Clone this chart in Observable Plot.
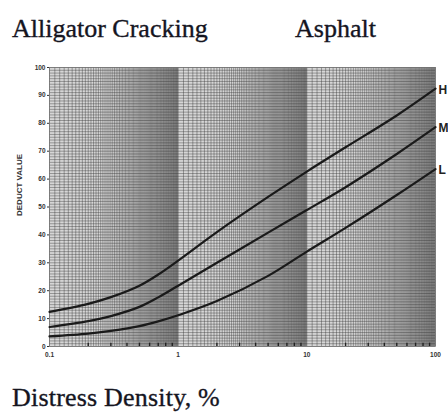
<!DOCTYPE html>
<html>
<head>
<meta charset="utf-8">
<script src="https://cdn.jsdelivr.net/npm/d3@7"></script>
<script src="https://cdn.jsdelivr.net/npm/@observablehq/plot@0.6"></script>
<style>
  html, body { margin: 0; padding: 0; background: #fff; }
  #wrap { position: relative; width: 448px; height: 414px; background: #fff; overflow: hidden; }
  .serif { position: absolute; font-family: "Liberation Serif", "Times New Roman", serif; color: #15151f; white-space: nowrap; line-height: normal; -webkit-text-stroke: 0.35px #15151f; }
  #chart { position: absolute; left: 0; top: 50px; }
</style>
</head>
<body>
<div id="wrap">
  <div class="serif" style="left:12px; top:14px; font-size:26px;">Alligator Cracking</div>
  <div class="serif" style="left:295px; top:14px; font-size:26px;">Asphalt</div>
  <div id="chart"></div>
  <div class="serif" style="left:12px; top:383px; font-size:26px; letter-spacing:0.2px;">Distress Density, %</div>
</div>
<script>
// Distress density (%) sample points
const density = [0.1, 0.2, 0.3, 0.5, 0.7, 1, 2, 5, 10, 20, 50, 100];
// Deduct values per severity
const high   = [12.4, 15.3, 17.7, 21.8, 25.8, 30.8, 41.0, 53.6, 62.7, 71.4, 82.8, 92.4];
const medium = [7.0, 9.1, 10.9, 14.2, 17.6, 21.8, 30.0, 40.8, 48.9, 57.1, 69.0, 78.6];
const low    = [3.6, 4.6, 5.6, 7.3, 9.0, 11.2, 16.3, 25.3, 34.0, 42.5, 54.3, 63.6];
const severityLabels = ["H", "M", "L"];
const xTicks = [0.1, 0.5, 1, 5, 10, 50, 100];
const yTicks = [0, 10, 20, 30, 40, 50, 60, 70, 80, 90, 100];

const series = [high, medium, low];
const rows = [];
series.forEach((vals, i) => vals.forEach((v, j) => rows.push({severity: severityLabels[i], x: density[j], y: v})));
const ends = series.map((vals, i) => ({severity: severityLabels[i], x: density[density.length - 1], y: vals[vals.length - 1]}));

// graph-paper grid (decorative): log-paper verticals, unit horizontals
const decades = [0.1, 1, 10];
const vGrid = [];
decades.forEach(d => { for (let k = 10; k < 100; k++) vGrid.push(d * k / 10); });
vGrid.push(100);
const hGrid = d3.range(0, 101, 1);
const minorTicks = [];
decades.forEach(d => { for (let k = 2; k <= 9; k++) minorTicks.push(d * k); });

const chart = Plot.plot({
  width: 448,
  height: 320,
  marginLeft: 49,
  marginRight: 13,
  marginTop: 17,
  marginBottom: 24,
  style: {fontFamily: "Arial, 'Liberation Sans', sans-serif", fontSize: "6.5px", fontWeight: "bold", color: "#333", background: "transparent", overflow: "visible"},
  x: {type: "log", domain: [0.1, 100], ticks: xTicks, tickFormat: d => String(d), tickSize: 0, tickPadding: 6, label: null},
  y: {domain: [0, 100], ticks: yTicks, tickSize: 2, tickPadding: 2, label: null},
  marks: [
    Plot.frame({fill: "#d6d6d6", stroke: null}),
    Plot.ruleY(hGrid, {y: d => d, stroke: "#333", strokeOpacity: 0.45, strokeWidth: 0.9}),
    Plot.ruleX(vGrid, {x: d => d, stroke: "#333", strokeOpacity: 0.45, strokeWidth: 0.9}),
    Plot.ruleX(minorTicks, {x: d => d, y1: 0, y2: 1.2, stroke: "#222", strokeWidth: 1.4}),
    Plot.frame({stroke: "#777", strokeWidth: 0.8}),
    Plot.line(rows, {x: "x", y: "y", z: "severity", curve: "catmull-rom", stroke: "#1a1a1a", strokeWidth: 2.2}),
    Plot.text(ends, {x: "x", y: "y", text: "severity", textAnchor: "start", dx: 3, dy: 1, fontSize: 12, fontWeight: "bold", fill: "#222", fontFamily: "Arial, 'Liberation Sans', sans-serif"}),
    Plot.text(["DEDUCT VALUE"], {frameAnchor: "left", rotate: -90, dx: -30, dy: 9, text: d => d, fontSize: 8, fontWeight: "bold", fill: "#333"})
  ]
});
document.getElementById("chart").appendChild(chart);
</script>
</body>
</html>
